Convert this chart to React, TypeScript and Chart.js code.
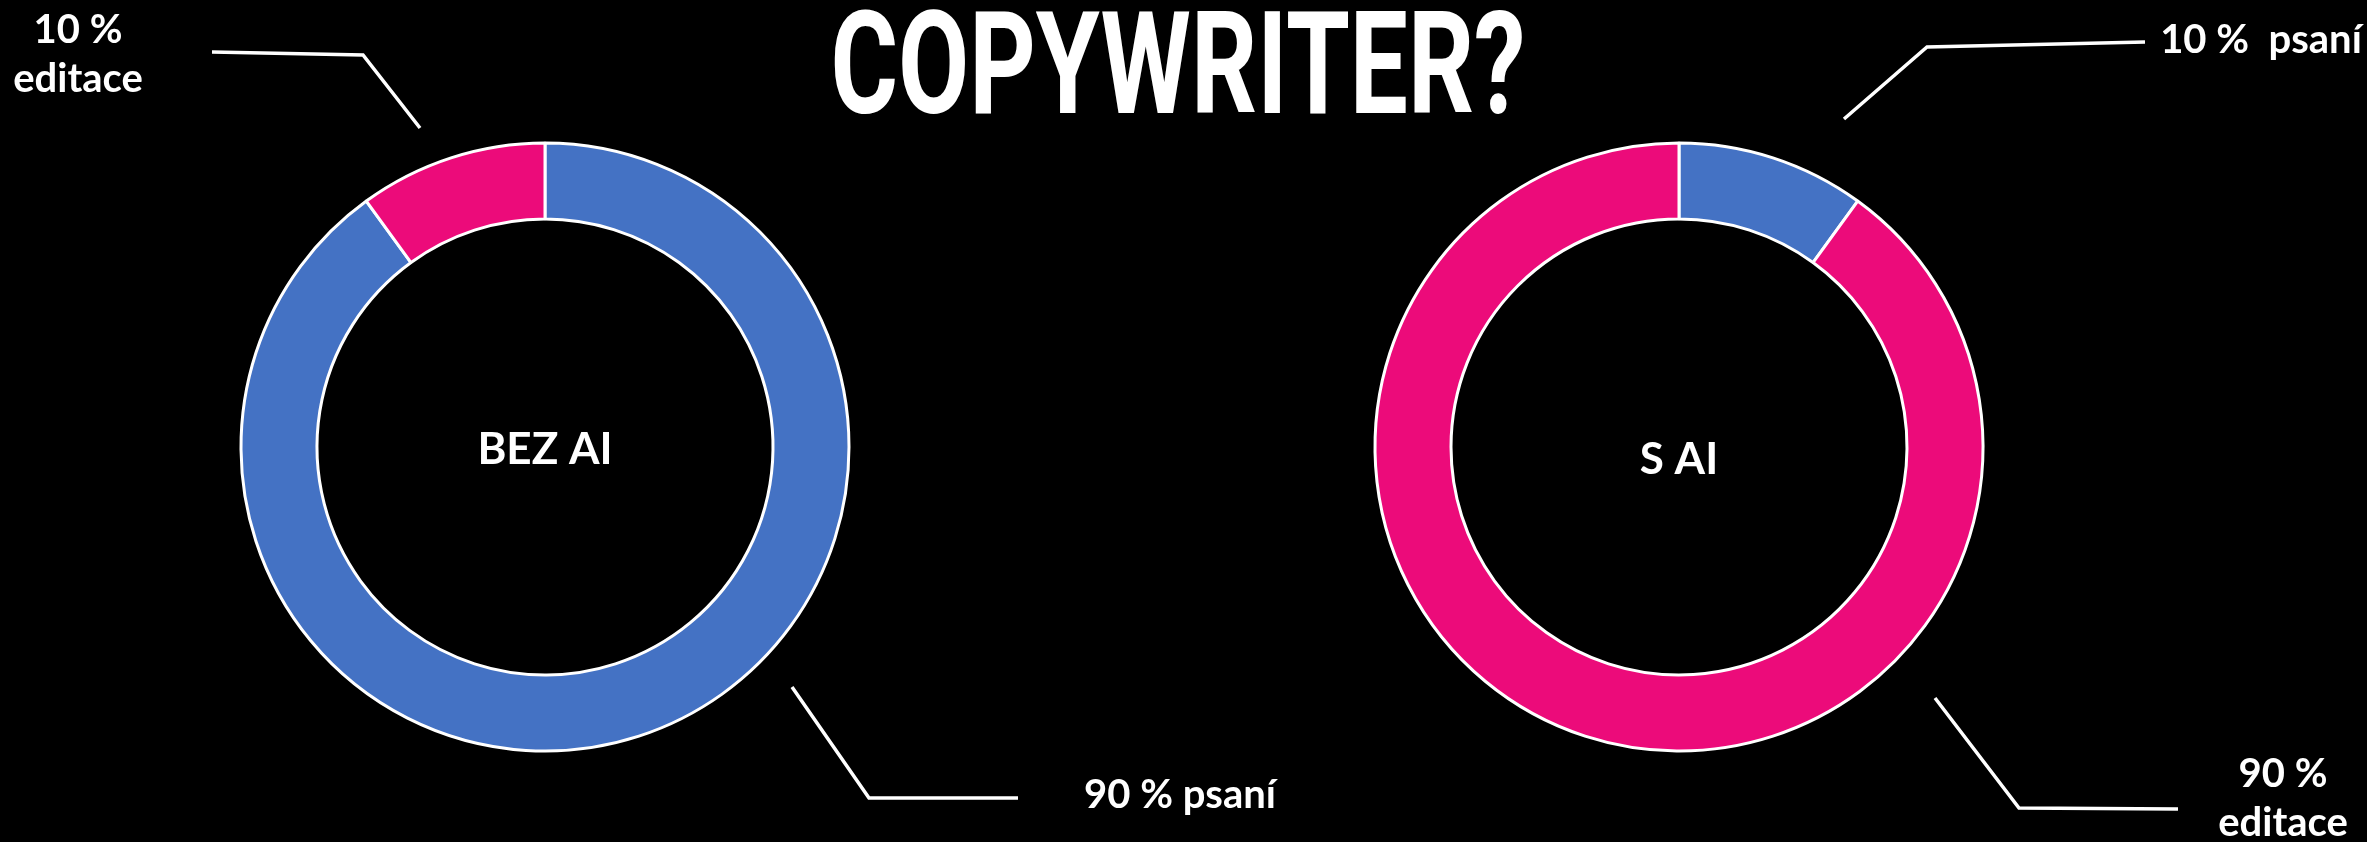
import React, { useEffect, useRef } from 'react';
import { Chart, registerables } from 'chart.js';

Chart.register(...registerables);

// ---------- data ----------
const TITLE = 'COPYWRITER?';
const categories = ['psaní', 'editace'];
const chartNames = ['BEZ AI', 'S AI'];
const bezAiValues = [90, 10];
const sAiValues = [10, 90];
const bezAiLabels = [['90 % psaní'], ['10 %', 'editace']];
const sAiLabels = [['10 %  psaní'], ['90 %', 'editace']];

// ---------- style / layout ----------
const W = 2367;
const H = 842;
const RADIUS = 304;
const segmentColors = ['#4472C4', '#EC0B7A'];

type Leader = { pts: number[][]; tx: number; ty: number; lh: number };
type Layout = { cx: number; cy: number; nameY: number; leaders: Leader[]; title: boolean };

const layouts: Layout[] = [
  {
    cx: 545,
    cy: 447,
    nameY: 17,
    title: true,
    leaders: [
      { pts: [[247, 240], [324, 351], [473, 351]], tx: 635, ty: 361, lh: 49 },
      { pts: [[-125, -319], [-182, -392], [-333, -395]], tx: -467, ty: -404, lh: 49 },
    ],
  },
  {
    cx: 1679,
    cy: 447,
    nameY: 27,
    title: false,
    leaders: [
      { pts: [[165, -328], [248, -400], [466, -405]], tx: 582, ty: -394, lh: 49 },
      { pts: [[256, 251], [340, 361], [499, 362]], tx: 604, ty: 340, lh: 49 },
    ],
  },
];

function makePlugin(layout: Layout, name: string, labels: string[][]) {
  return {
    id: 'annot',
    afterDraw(chart: any) {
      const ctx = chart.ctx as CanvasRenderingContext2D;
      const arc = chart.getDatasetMeta(0).data[0] as any;
      const cx = arc.x;
      const cy = arc.y;
      ctx.save();
      ctx.strokeStyle = '#ffffff';
      ctx.fillStyle = '#ffffff';
      ctx.lineWidth = 3.5;
      ctx.lineJoin = 'miter';
      layout.leaders.forEach((ld, i) => {
        ctx.beginPath();
        ld.pts.forEach((p, k) => {
          if (k === 0) ctx.moveTo(cx + p[0], cy + p[1]);
          else ctx.lineTo(cx + p[0], cy + p[1]);
        });
        ctx.stroke();
        ctx.font = 'bold 40px Lato';
        ctx.textAlign = 'center';
        ctx.textBaseline = 'alphabetic';
        labels[i].forEach((line, j) => {
          ctx.fillText(line, cx + ld.tx, cy + ld.ty + j * ld.lh);
        });
      });
      ctx.font = 'bold 44px Lato';
      ctx.textAlign = 'center';
      ctx.textBaseline = 'alphabetic';
      ctx.fillText(name, cx, cy + layout.nameY);

      if (layout.title) {
        ctx.font = 'bold 142px Roboto';
        const w = ctx.measureText(TITLE).width;
        ctx.translate(1178, 113);
        ctx.scale(695 / w, 1);
        ctx.textAlign = 'center';
        ctx.fillText(TITLE, 0, 0);
      }
      ctx.restore();
    },
  };
}

function DonutCanvas({ index }: { index: number }) {
  const ref = useRef<HTMLCanvasElement | null>(null);
  useEffect(() => {
    if (!ref.current) return;
    const layout = layouts[index];
    const values = index === 0 ? bezAiValues : sAiValues;
    const labels = index === 0 ? bezAiLabels : sAiLabels;
    const chart = new Chart(ref.current, {
      type: 'doughnut',
      data: {
        labels: categories,
        datasets: [
          {
            data: values,
            backgroundColor: segmentColors,
            borderColor: '#ffffff',
            borderWidth: 3,
          },
        ],
      },
      options: {
        responsive: false,
        animation: false,
        devicePixelRatio: 1,
        events: [],
        radius: RADIUS,
        cutout: '75%',
        rotation: 0,
        layout: {
          padding: {
            left: Math.max(0, 2 * layout.cx - W),
            right: Math.max(0, W - 2 * layout.cx),
            top: Math.max(0, 2 * layout.cy - H),
            bottom: Math.max(0, H - 2 * layout.cy),
          },
        },
        plugins: {
          legend: { display: false },
          tooltip: { enabled: false },
          title: { display: false },
        },
      } as any,
      plugins: [makePlugin(layout, chartNames[index], labels)],
    });
    return () => chart.destroy();
  }, [index]);
  return (
    <canvas
      ref={ref}
      width={W}
      height={H}
      style={{ position: 'absolute', left: 0, top: 0, width: W, height: H }}
    />
  );
}

export default function App() {
  return (
    <div
      style={{
        position: 'fixed',
        left: 0,
        top: 0,
        width: W,
        height: H,
        background: '#000000',
        overflow: 'hidden',
      }}
    >
      <DonutCanvas index={0} />
      <DonutCanvas index={1} />
    </div>
  );
}
